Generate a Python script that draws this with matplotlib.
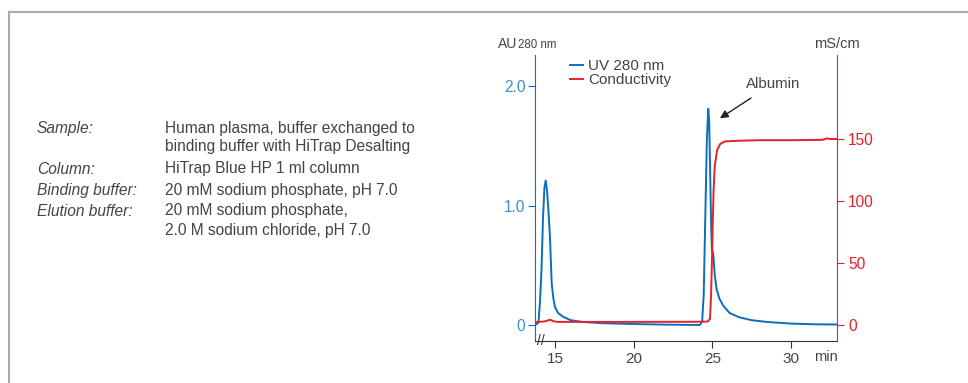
import matplotlib
matplotlib.use("Agg")
import matplotlib.pyplot as plt
from matplotlib.lines import Line2D

plt.rcParams['font.family'] = ['Liberation Sans', 'DejaVu Sans']

# dane - UV 280 nm
t_uv = [13.75, 13.95, 14.05, 14.15, 14.24, 14.33, 14.41, 14.5, 14.6, 14.68, 14.79, 14.9,
        15.0, 15.2, 15.5, 16.0, 16.8, 18.0, 20.0, 22.0, 24.2, 24.35, 24.45, 24.55, 24.65,
        24.74, 24.8, 24.87, 24.93, 24.97, 25.05, 25.15, 25.27, 25.45, 25.7, 26.1, 26.7,
        27.5, 28.5, 30.0, 31.5, 32.92]
uv = [0.0, 0.02, 0.2, 0.49, 0.9, 1.15, 1.21, 1.12, 0.92, 0.74, 0.35, 0.22,
      0.15, 0.1, 0.07, 0.04, 0.025, 0.015, 0.008, 0.003, 0.0, 0.03, 0.25, 0.9, 1.55,
      1.81, 1.7, 1.2, 0.8, 0.63, 0.6, 0.42, 0.3, 0.22, 0.16, 0.1, 0.065,
      0.04, 0.025, 0.012, 0.006, 0.004]

# dane - konduktywnosc
t_cond = [13.85, 14.3, 14.5, 14.7, 14.9, 15.2, 17.0, 20.0, 24.0, 24.7, 24.85, 24.92,
          24.98, 25.03, 25.08, 25.15, 25.3, 25.5, 25.8, 26.5, 28.0, 30.0, 32.0, 32.3,
          32.45, 32.92]
cond = [2.5, 2.8, 3.5, 4.2, 3.0, 2.5, 2.5, 2.5, 2.6, 2.8, 5, 25,
        55, 85, 109, 128, 141, 146, 148, 148.5, 149, 149, 149.3, 150.5,
        150, 150]

x_ticks = [15, 20, 25, 30]
uv_ticks = [0, 1.0, 2.0]
uv_labels = ['0', '1.0', '2.0']
cond_ticks = [0, 50, 100, 150]

info_keys = ['Sample:', '', 'Column:', 'Binding buffer:', 'Elution buffer:', '']
info_vals = ['Human plasma, buffer exchanged to', 'binding buffer with HiTrap Desalting',
             'HiTrap Blue HP 1 ml column', '20 mM sodium phosphate, pH 7.0',
             '20 mM sodium phosphate,', '2.0 M sodium chloride, pH 7.0']
info_y = [128, 146, 169, 190, 211, 230]

BLUE = '#0a6ebd'
BLUE_TXT = '#3a8fd0'
RED = '#e8202a'
GREY = '#444444'

W, H = 968, 383
fig = plt.figure(figsize=(W / 100, H / 100), dpi=100)


def fx(px):
    return px / W


def fy(py):
    return 1 - py / H


# ramka
fig.add_artist(Line2D([fx(9), 1.0], [fy(11.5), fy(11.5)], color='#aaaaaa', lw=1.5))
fig.add_artist(Line2D([fx(9), fx(9)], [fy(11.5), 0], color='#aaaaaa', lw=1.5))

# opis
for k, v, y in zip(info_keys, info_vals, info_y):
    fig.text(fx(37), fy(y), k, fontsize=11.2, style='italic', color=GREY, va='center')
    fig.text(fx(165), fy(y), v, fontsize=11.2, color=GREY, va='center')

ax = fig.add_axes([fx(535), fy(341), fx(837) - fx(535), fy(55) - fy(341)])
ax2 = ax.twinx()

l1, = ax.plot(t_uv, uv, color=BLUE, lw=1.4, label='UV 280 nm')
l2, = ax2.plot(t_cond, cond, color=RED, lw=1.4, label='Conductivity')

ax.set_xlim(13.73, 32.92)
ax.set_ylim(-0.134, 2.26)
ax2.set_ylim(-12.9, 217.7)

for a in (ax, ax2):
    a.spines['top'].set_visible(False)
ax.spines['right'].set_visible(False)
ax2.spines['left'].set_visible(False)
ax2.spines['bottom'].set_visible(False)
ax.spines['left'].set_color(BLUE)
ax2.spines['right'].set_color(RED)
ax.spines['bottom'].set_color('#333333')

ax.set_xticks(x_ticks)
ax.set_yticks(uv_ticks)
ax.set_yticklabels(uv_labels)
ax2.set_yticks(cond_ticks)
ax.tick_params(axis='x', colors='#333333', labelcolor=GREY, labelsize=11, length=5, pad=3)
ax.tick_params(axis='y', colors=BLUE, labelcolor=BLUE_TXT, labelsize=11.2, length=5, pad=2)
ax2.tick_params(axis='y', colors=RED, labelcolor=RED, labelsize=11.2, length=5, pad=3)

# podpisy osi
fig.text(fx(498), fy(48), 'AU', fontsize=10, color=GREY, va='baseline')
fig.text(fx(518), fy(48), '280 nm', fontsize=8.3, color=GREY, va='baseline')
fig.text(fx(837), fy(48.5), 'mS/cm', fontsize=10.5, color=GREY, va='baseline', ha='center')
fig.text(fx(838), fy(357), 'min', fontsize=10.5, color=GREY, va='center', ha='right')

# przerwa osi
ax.text(0.018, 0.0, '//', transform=ax.transAxes, fontsize=10, color='#333333',
        ha='center', va='center')

ax.legend([l1, l2], ['UV 280 nm', 'Conductivity'], loc='upper left',
          bbox_to_anchor=(0.115, 0.985), frameon=False, fontsize=11,
          handlelength=0.9, handletextpad=0.3, labelspacing=0.0,
          borderpad=0, borderaxespad=0, labelcolor=GREY)

ax.annotate('Albumin', xy=(25.48, 1.73), xytext=(28.85, 2.02),
            fontsize=10.8, color=GREY, ha='center', va='center',
            arrowprops=dict(arrowstyle='-|>', color='#222222', lw=1.0,
                            mutation_scale=12, shrinkA=6, shrinkB=0))

fig.savefig('out.png', dpi=100)
